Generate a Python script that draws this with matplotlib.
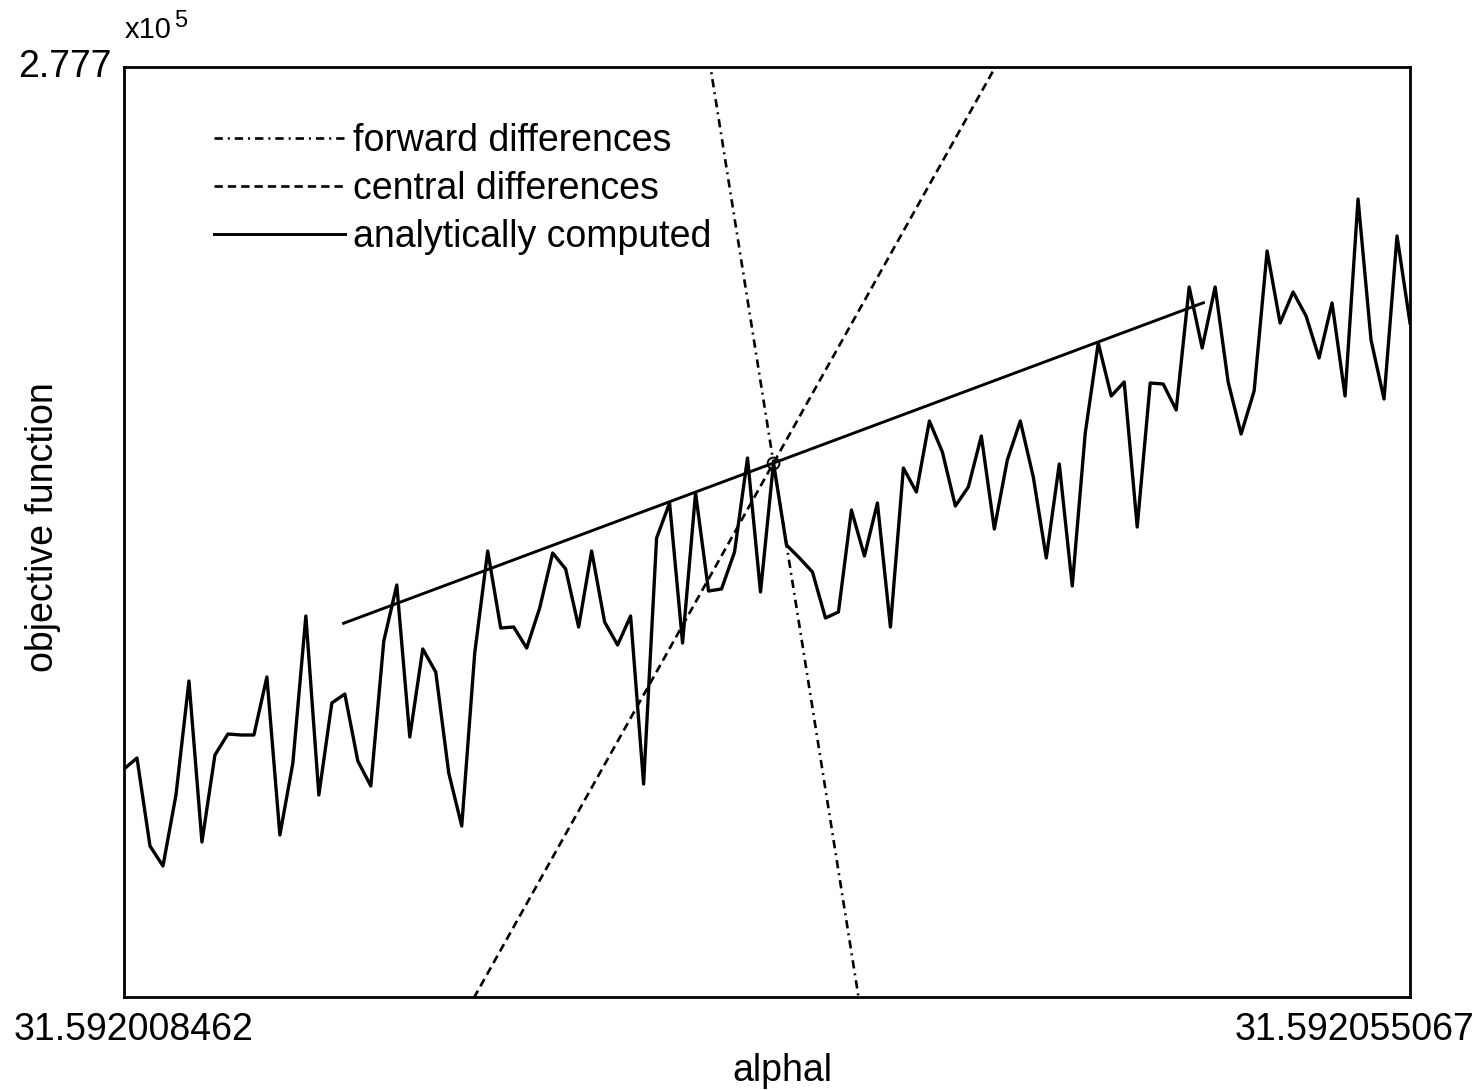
import numpy as np
import matplotlib
matplotlib.use("Agg")
import matplotlib.pyplot as plt

plt.rcParams["font.family"] = ["Liberation Sans", "DejaVu Sans"]
plt.rcParams["lines.scale_dashes"] = False

# step size interval for alphal and the sampled objective function values
alpha_min = 31.592008462
alpha_max = 31.592055067
objective = [
    277629.8, 277630.9, 277622.1, 277620.1, 277627.2, 277638.6, 277622.5, 277631.2, 277633.3, 277633.2,
    277633.2, 277639.0, 277623.2, 277630.4, 277645.1, 277627.2, 277636.4, 277637.3, 277630.6, 277628.1,
    277642.6, 277648.2, 277633.0, 277641.8, 277639.5, 277629.4, 277624.1, 277641.4, 277651.6, 277643.9,
    277644.0, 277641.9, 277645.9, 277651.4, 277649.8, 277644.0, 277651.6, 277644.5, 277642.2, 277645.1,
    277628.3, 277652.9, 277656.4, 277642.4, 277657.4, 277647.6, 277647.8, 277651.5, 277660.9, 277647.5,
    277660.4, 277652.2, 277650.9, 277649.5, 277644.9, 277645.5, 277655.7, 277651.1, 277656.4, 277644.0,
    277659.9, 277657.5, 277664.6, 277661.5, 277656.1, 277658.0, 277663.1, 277653.8, 277660.7, 277664.6,
    277659.0, 277650.9, 277660.3, 277648.1, 277663.4, 277672.4, 277667.1, 277668.5, 277654.0, 277668.4,
    277668.3, 277665.7, 277678.0, 277671.9, 277678.0, 277668.5, 277663.3, 277667.6, 277681.6, 277674.4,
    277677.5, 277675.1, 277670.9, 277676.4, 277667.1, 277686.8, 277672.7, 277666.8, 277683.1, 277674.4,
]
y_min, y_max = 277607.0, 277700.0

# point where the gradients are evaluated and the three gradient estimates
alpha0 = 31.592032
f0 = 277660.4
half_width = 1.558e-5
gradients = {
    "forward differences": -1.733e7,
    "central differences": 4.926e6,
    "analytically computed": 1.0287e6,
}
styles = {
    "forward differences": dict(lw=1.9, dashes=(6.0, 3.6, 1.4, 3.6)),
    "central differences": dict(lw=1.9, dashes=(6.0, 3.6)),
    "analytically computed": dict(lw=2.1),
}

alpha = np.linspace(alpha_min, alpha_max, len(objective))

fig = plt.figure(figsize=(14.84, 10.90), dpi=100)
ax = fig.add_axes([124 / 1484, 1 - 997 / 1090, 1286 / 1484, 930 / 1090])

ax.plot(alpha, objective, color="black", lw=2.4)

xs = np.array([alpha0 - half_width, alpha0 + half_width])
for name, g in gradients.items():
    ax.plot(xs, f0 + g * (xs - alpha0), color="black", label=name, **styles[name])
ax.plot([alpha0], [f0], "o", mfc="none", mec="black", ms=8.5, mew=1.4)

ax.set_xlim(alpha_min, alpha_max)
ax.set_ylim(y_min, y_max)

for s in ax.spines.values():
    s.set_linewidth(2.0)
ax.tick_params(length=0)
ax.set_xticks([])
ax.set_yticks([])

fig.text(112 / 1484, 1 - 77 / 1090, "2.777", fontsize=27, ha="right", va="baseline")
fig.text(125 / 1484, 1 - 38 / 1090, "x10", fontsize=21, ha="left", va="baseline")
fig.text(174 / 1484, 1 - 27 / 1090, "5", fontsize=17, ha="left", va="baseline")
fig.text(14 / 1484, 1 - 1040 / 1090, f"{alpha_min:.9f}", fontsize=27, ha="left", va="baseline")
fig.text(1474 / 1484, 1 - 1040 / 1090, f"{alpha_max:.9f}", fontsize=27, ha="right", va="baseline")

ax.set_xlabel("alphal", fontsize=27)
ax.xaxis.set_label_coords((782 - 124) / 1286, (997 - 1053) / 930)
ax.set_ylabel("objective function", fontsize=27)
ax.yaxis.set_label_coords((61 - 124) / 1286, 0.505)

ax.legend(loc="upper left", bbox_to_anchor=((214 - 124) / 1286, (997 - 123) / 930),
          frameon=False, fontsize=27, handlelength=3.5, handletextpad=0.2,
          labelspacing=0.32, borderpad=0, borderaxespad=0)

fig.savefig("out.png", dpi=100)
